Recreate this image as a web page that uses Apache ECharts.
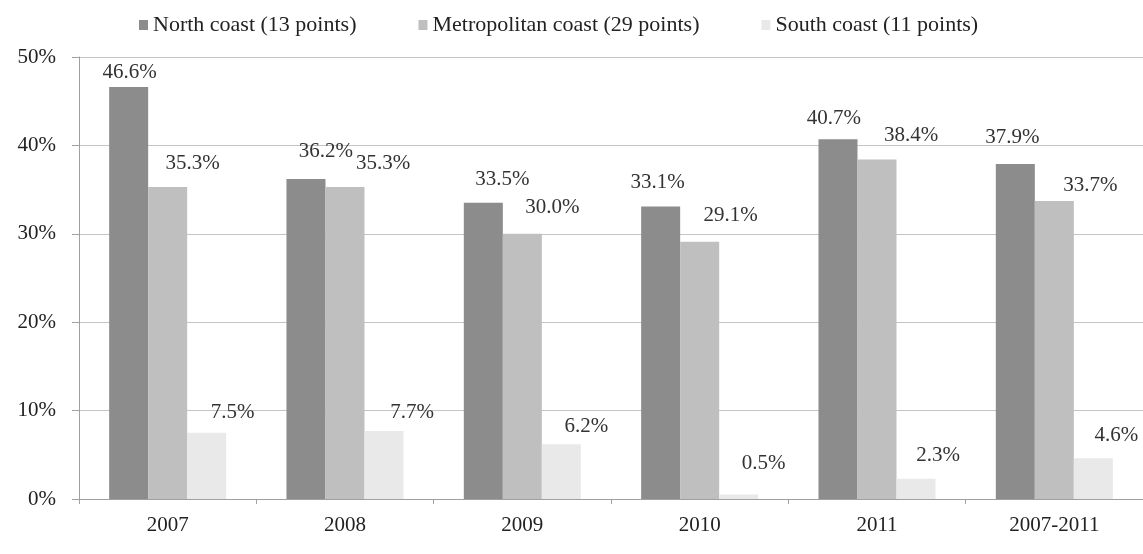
<!DOCTYPE html>
<html><head><meta charset="utf-8">
<script src="https://cdn.jsdelivr.net/npm/echarts@6/dist/echarts.min.js"></script>
<style>html,body{margin:0;padding:0;background:#fff}#c{width:1143px;height:554px}</style>
</head><body><div id="c"></div>
<script>
const categories = ['2007','2008','2009','2010','2011','2007-2011'];
const seriesNames = ['North coast (13 points)','Metropolitan coast (29 points)','South coast (11 points)'];
const northCoast = [46.6, 36.2, 33.5, 33.1, 40.7, 37.9];
const metroCoast = [35.3, 35.3, 30.0, 29.1, 38.4, 33.7];
const southCoast = [7.5, 7.7, 6.2, 0.5, 2.3, 4.6];
const yTicks = [0, 10, 20, 30, 40, 50];

// label placement tweaks (style only)
const labelOffsets = [
  [[1,1],[20,-12],[19,-8],[-3,-8],[-4,-5],[-3,-11]],
  [[25,-8],[38,-8],[30,-11],[31,-11],[34,-9],[36,0]],
  [[26,-5],[28,-3],[25,-2],[25,-16],[22,-8],[23,-7]]
];
const colors = ['#8c8c8c','#bfbfbf','#e9e9e9'];
const font = 'Liberation Serif';

function mk(i, vals){
  return {
    name: seriesNames[i], type: 'bar', barGap: '0%', barCategoryGap: '34%',
    itemStyle: {color: colors[i]},
    data: vals.map((v,j)=>({value:v, label:{offset: labelOffsets[i][j]}})),
    label: {show:true, position:'top', distance:5, fontFamily:font, fontSize:21, color:'#333',
      formatter: p => p.value.toFixed(1) + '%'},
    emphasis: {disabled:true}
  };
}

const chart = echarts.init(document.getElementById('c'));
chart.setOption({
  animation:false,
  legend:{top:9, left:134, itemWidth:9, itemHeight:10, itemGap:62, icon:'rect',
    textStyle:{fontFamily:font, fontSize:22, color:'#222'}, selectedMode:false},
  grid:{left:79, top:57, width:1067, bottom:55, containLabel:false},
  xAxis:{type:'category', data:categories,
    axisLine:{lineStyle:{color:'#a0a0a0'}},
    axisTick:{show:true, length:5, lineStyle:{color:'#a0a0a0'}},
    axisLabel:{fontFamily:font, fontSize:21, color:'#222', margin:16}},
  yAxis:{type:'value', min:yTicks[0], max:yTicks[yTicks.length-1], interval:10,
    axisLine:{show:true, lineStyle:{color:'#a0a0a0'}},
    axisTick:{show:true, length:7, lineStyle:{color:'#a0a0a0'}},
    splitLine:{lineStyle:{color:'#c4c4c4'}},
    axisLabel:{fontFamily:font, fontSize:21, color:'#222', margin:23, formatter: v => v + '%'}},
  series:[mk(0,northCoast), mk(1,metroCoast), mk(2,southCoast)]
});
</script></body></html>
